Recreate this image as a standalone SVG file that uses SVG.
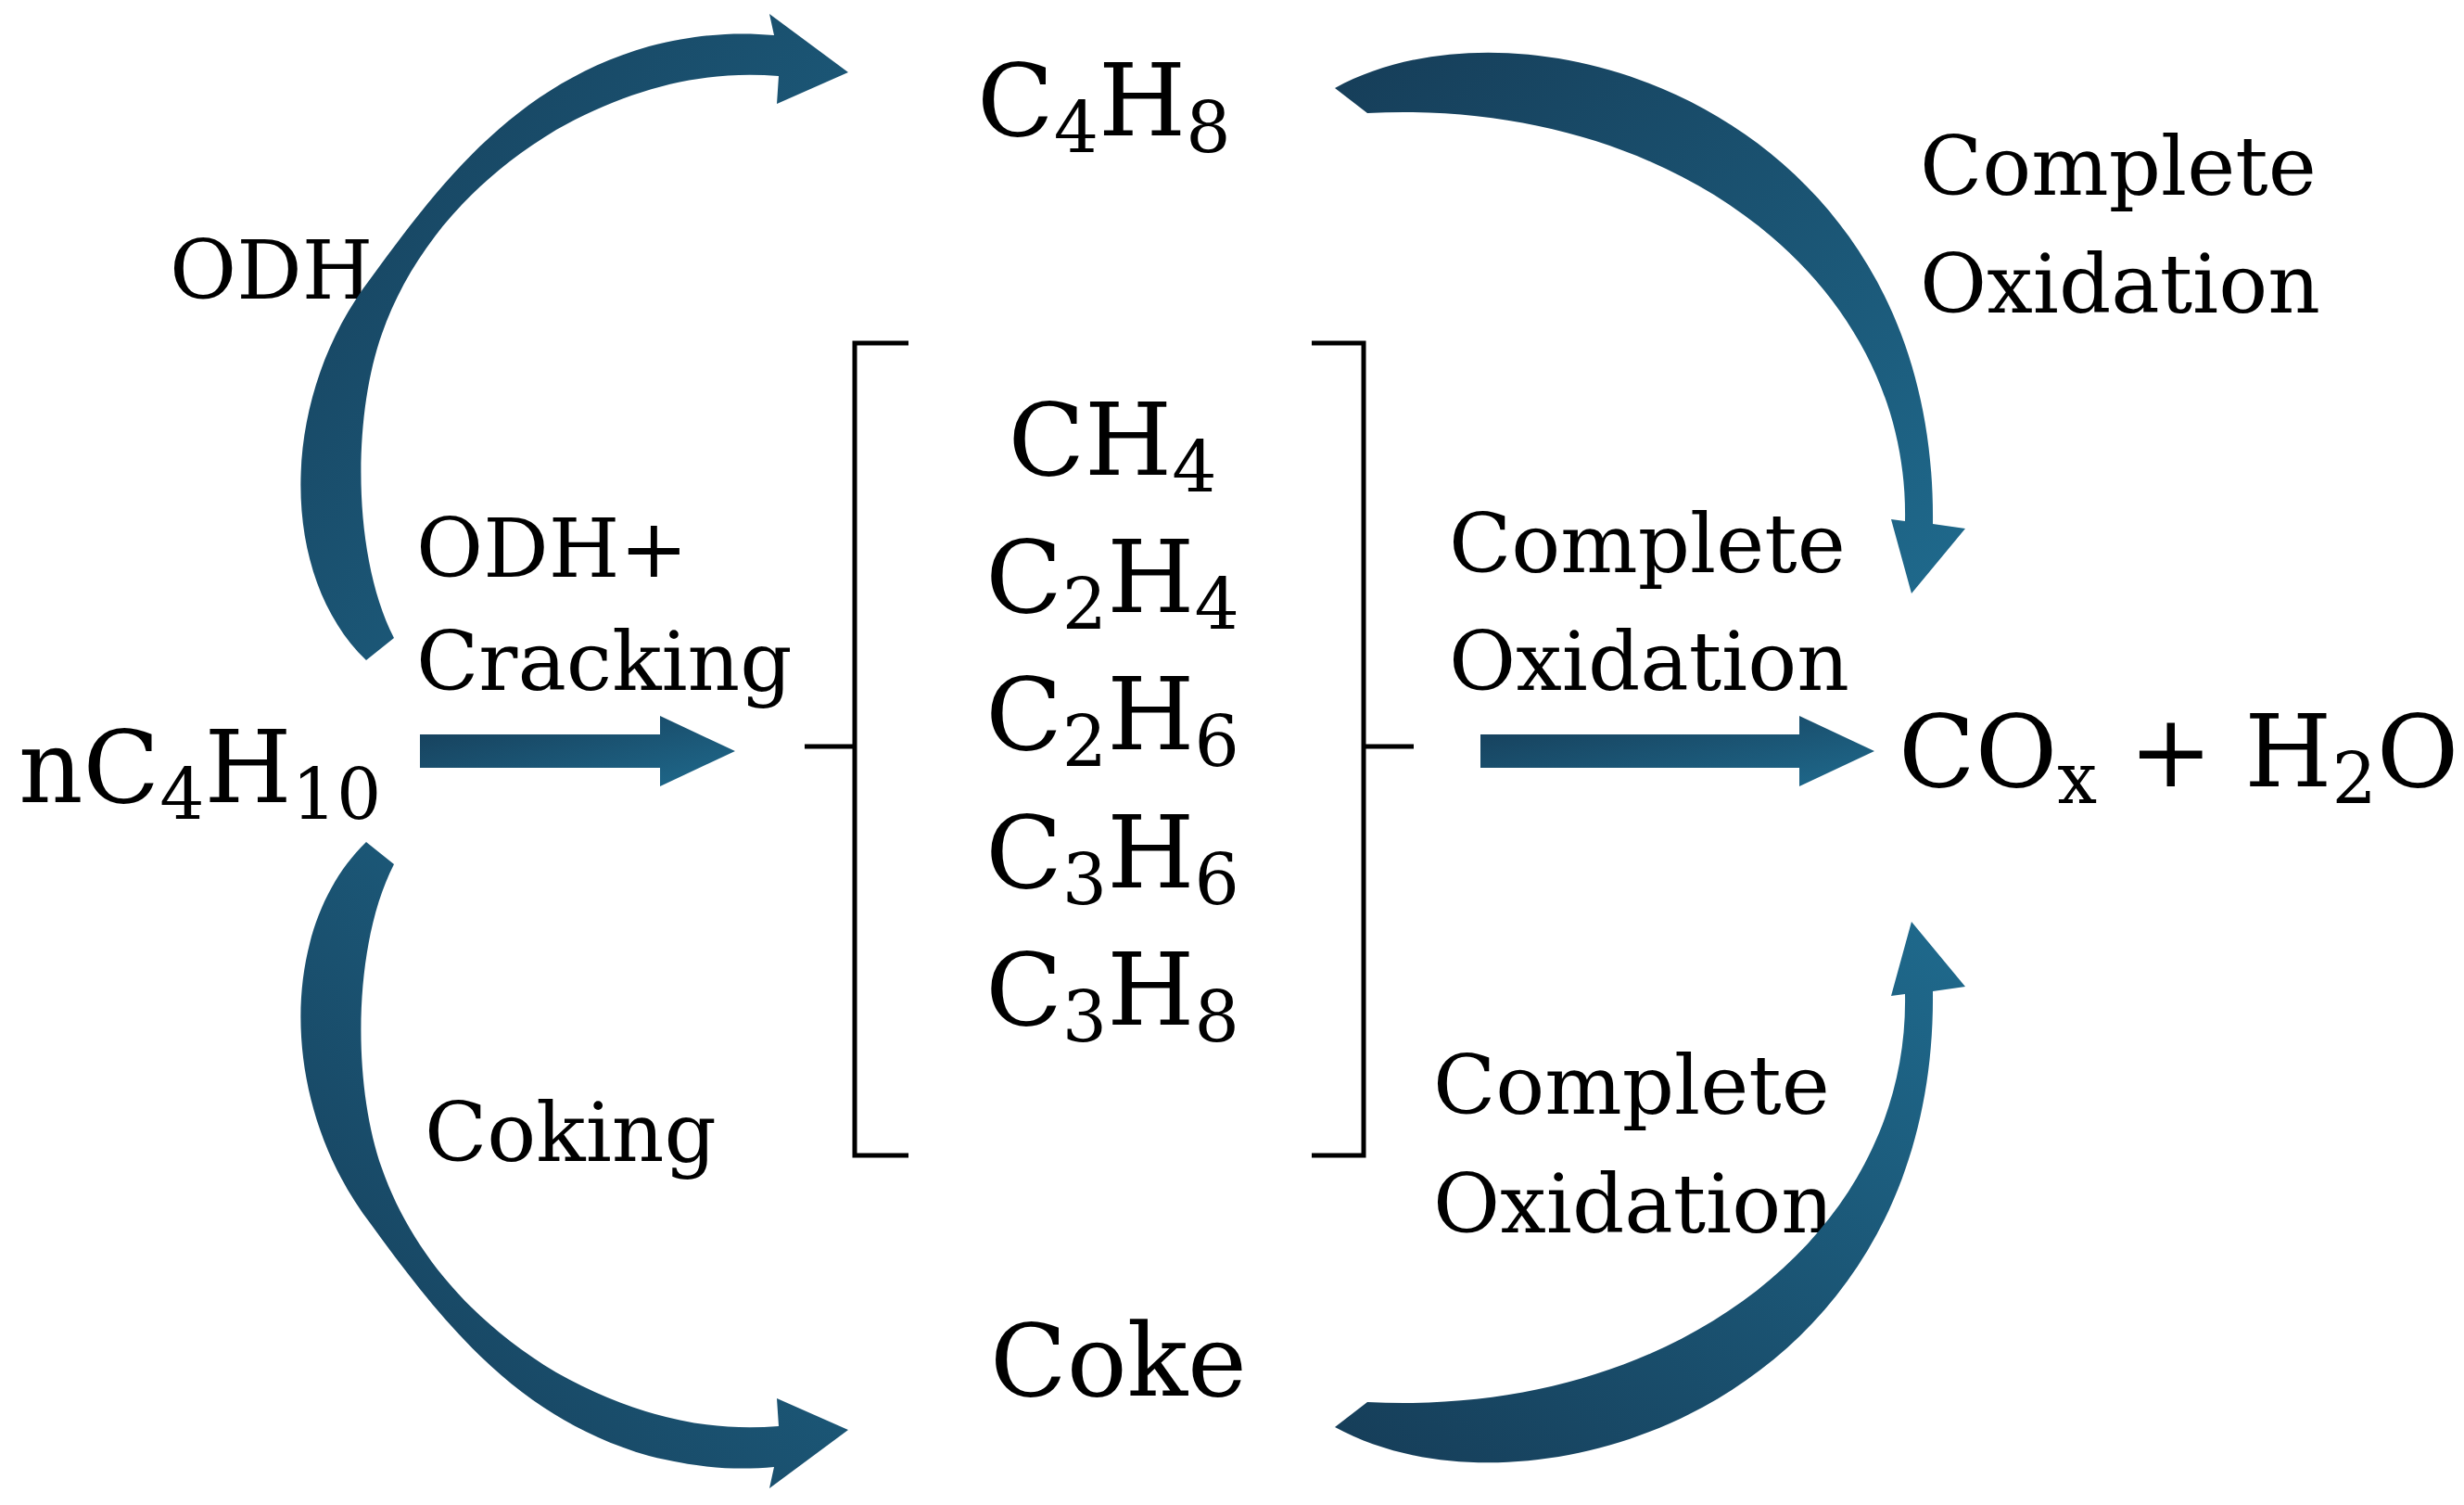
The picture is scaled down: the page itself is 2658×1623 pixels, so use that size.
<svg xmlns="http://www.w3.org/2000/svg" width="2658" height="1623" viewBox="0 0 2658 1623">
<style>
.m{font-family:"DejaVu Serif","Liberation Serif",serif;font-size:108px;fill:#000}
.l{font-family:"DejaVu Serif","Liberation Serif",serif;font-size:88px;fill:#000}
.s{font-size:76px}
.ar{fill:url(#g)}
.br{fill:none;stroke:#000;stroke-width:5}
</style>
<defs>
<linearGradient id="g" x1="0" y1="0" x2="1" y2="1">
<stop offset="0" stop-color="#163d58"/><stop offset="1" stop-color="#1f6a8d"/>
</linearGradient>
</defs>
<g id="n_butane"><text class="m" x="20" y="865">nC<tspan class="s" dy="18">4</tspan><tspan dy="-18">H</tspan><tspan class="s" dy="18">10</tspan></text></g>
<g id="n_c4h8"><text class="m" x="1054" y="146">C<tspan class="s" dy="18">4</tspan><tspan dy="-18">H</tspan><tspan class="s" dy="18">8</tspan></text></g>
<g id="n_products" text-anchor="middle">
<text class="m" x="1200" y="512">CH<tspan class="s" dy="18">4</tspan></text>
<text class="m" x="1200" y="660">C<tspan class="s" dy="18">2</tspan><tspan dy="-18">H</tspan><tspan class="s" dy="18">4</tspan></text>
<text class="m" x="1200" y="808">C<tspan class="s" dy="18">2</tspan><tspan dy="-18">H</tspan><tspan class="s" dy="18">6</tspan></text>
<text class="m" x="1200" y="957">C<tspan class="s" dy="18">3</tspan><tspan dy="-18">H</tspan><tspan class="s" dy="18">6</tspan></text>
<text class="m" x="1200" y="1105">C<tspan class="s" dy="18">3</tspan><tspan dy="-18">H</tspan><tspan class="s" dy="18">8</tspan></text>
<path class="br" d="M980,370 H922 V805 H868 M922,805 V1246 H980"/>
<path class="br" d="M1415,370 H1471 V805 H1525 M1471,805 V1246 H1415"/>
</g>
<g id="n_coke"><text class="m" x="1068" y="1505">Coke</text></g>
<g id="n_cox"><text class="m" x="2048" y="848">CO<tspan class="s" dy="18">x</tspan><tspan dy="-18"> + H</tspan><tspan class="s" dy="18">2</tspan><tspan dy="-18">O</tspan></text></g>
<g id="labels">
<text class="l" x="183" y="322">ODH</text>
<text class="l" x="449" y="622">ODH+</text>
<text class="l" x="449" y="744">Cracking</text>
<text class="l" x="458" y="1252">Coking</text>
<text class="l" x="2071" y="210">Complete</text>
<text class="l" x="2071" y="337">Oxidation</text>
<text class="l" x="1563" y="617">Complete</text>
<text class="l" x="1563" y="744">Oxidation</text>
<text class="l" x="1546" y="1201">Complete</text>
<text class="l" x="1546" y="1329">Oxidation</text>
</g>
<g id="connectors">
<path class="ar" d="M453,792 H712 V772 L793,810 L712,848 V828 H453 Z"/>
<path class="ar" d="M1597,792 H1941 V772 L2022,810 L1941,848 V828 H1597 Z"/>
<path id="tl" class="ar" d="M395,712 C300,620 300,430 400,300 C480,190 560,90 700,50 C760,35 800,35 835,38 L830,15 L915,78 L838,112 L840,82 C760,75 680,95 600,140 C500,200 440,280 412,360 C380,450 380,600 425,688 Z"/>
<use href="#tl" transform="translate(0,1620) scale(1,-1)"/>
<path id="tr" class="ar" d="M1440,95 C1650,-20 2090,120 2085,565 L2120,570 L2062,640 L2040,560 L2055,562 C2060,300 1800,105 1475,122 Z"/>
<use href="#tr" transform="translate(0,1634) scale(1,-1)"/>
</g>
</svg>
